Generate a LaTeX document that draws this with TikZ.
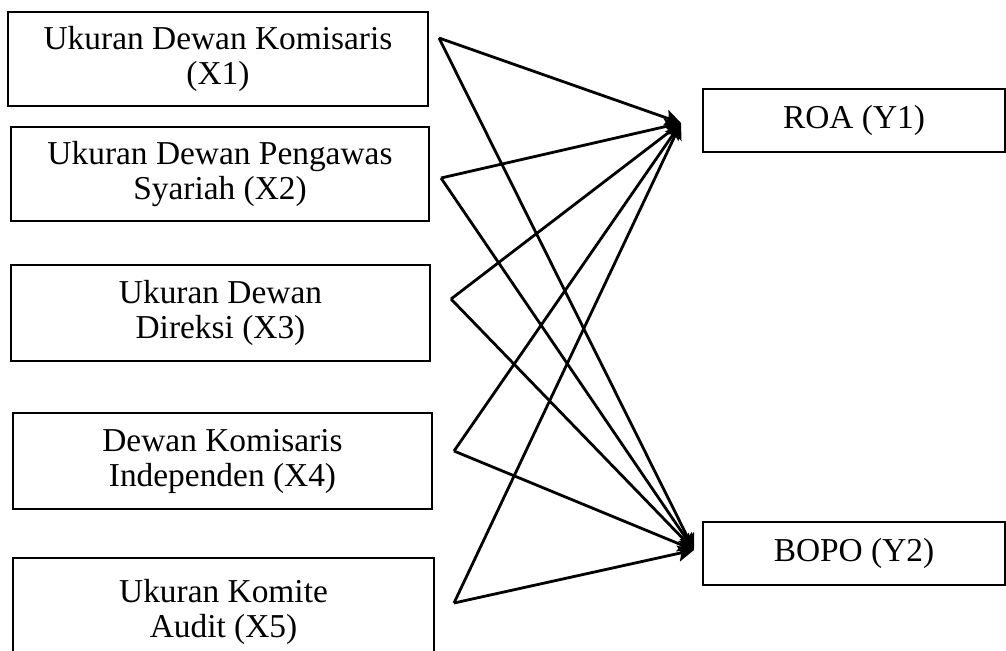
\documentclass[tikz,border=0pt]{standalone}
\usepackage{fontspec}
\setmainfont{Liberation Serif}
\usetikzlibrary{arrows.meta}
\begin{document}
\begin{tikzpicture}[x=0.5pt,y=-0.5pt,
  box/.style={draw,line width=1pt,inner sep=0pt,align=center,
    font=\fontsize{16.7}{17.5}\selectfont},
  conn/.style={line width=1.4pt,-{Stealth[length=8pt,width=8pt,inset=1.5pt]}}]
\useasboundingbox (0,0) rectangle (1006,650);
\node[box,minimum width=210pt,minimum height=47pt] (x1) at (218,59) {Ukuran Dewan Komisaris\\(X1)};
\node[box,minimum width=209pt,minimum height=47pt] (x2) at (220,174) {Ukuran Dewan Pengawas\\Syariah (X2)};
\node[box,minimum width=209.5pt,minimum height=48pt] (x3) at (220.5,313) {Ukuran Dewan\\Direksi (X3)};
\node[box,minimum width=209.5pt,minimum height=48pt] (x4) at (222.5,461) {Dewan Komisaris\\Independen (X4)};
\node[box,minimum width=210.5pt,minimum height=54pt] (x5) at (223.5,612) {Ukuran Komite\\Audit (X5)};
\node[box,minimum width=151pt,minimum height=31.5pt] (y1) at (854,120.5) {ROA (Y1)};
\node[box,minimum width=151pt,minimum height=31.5pt] (y2) at (854,553.5) {BOPO (Y2)};
\coordinate (s1) at (439,38);
\coordinate (s2) at (441,178);
\coordinate (s3) at (451,299);
\coordinate (s4) at (454,451);
\coordinate (s5) at (454,603);
\coordinate (t1) at (681,123);
\coordinate (t2) at (694,550);
\foreach \s in {s1,s2,s3,s4,s5}{
  \draw[conn] (\s) -- (t1);
  \draw[conn] (\s) -- (t2);
}
\end{tikzpicture}
\end{document}
